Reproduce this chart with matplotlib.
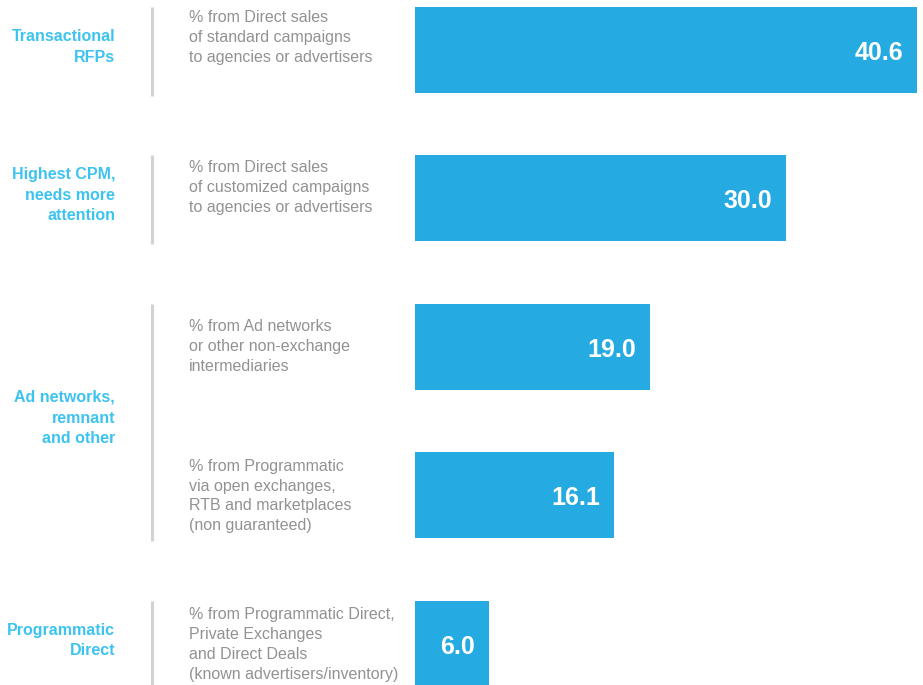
import matplotlib.pyplot as plt
from matplotlib.transforms import blended_transform_factory

# data
values = [40.6, 30.0, 19.0, 16.1, 6.0]
descriptions = [
    ["% from Direct sales", "of standard campaigns", "to agencies or advertisers"],
    ["% from Direct sales", "of customized campaigns", "to agencies or advertisers"],
    ["% from Ad networks", "or other non-exchange", "intermediaries"],
    ["% from Programmatic", "via open exchanges,", "RTB and marketplaces", "(non guaranteed)"],
    ["% from Programmatic Direct,", "Private Exchanges", "and Direct Deals", "(known advertisers/inventory)"],
]
groups = [
    (["Transactional", "RFPs"], [0]),
    (["Highest CPM,", "needs more", "attention"], [1]),
    (["Ad networks,", "remnant", "and other"], [2, 3]),
    (["Programmatic", "Direct"], [4]),
]

W, H = 923, 685
BAR = "#25aae1"
CAT = "#3dc3ef"
GREY = "#929292"
RULE = "#d2d2d2"

plt.rcParams['font.family'] = ['Liberation Sans', 'DejaVu Sans']

fig = plt.figure(figsize=(W / 100, H / 100), dpi=100)
ax = fig.add_axes([0, 0, 1, 1])
ax.axis('off')

# pixel layout: x=0 at 415px, 40.6 at 917px; row i centred at 50 + 148.4*i px
scale = (917 - 415) / 40.6
ax.set_xlim(-415 / scale, (W - 415) / scale)
step = 148.4
ax.set_ylim((H - 50) / step, -50 / step)
bh = 86 / step

ax.barh(range(len(values)), values, height=bh, color=BAR, left=0)

for i, v in enumerate(values):
    ax.annotate(f"{v:.1f}", (v, i), xytext=(-14, -3), textcoords='offset pixels',
                ha='right', va='center', color='white', fontsize=18,
                fontweight='bold')


def fy(ypx):
    return 1 - ypx / H


# descriptions, one line at a time
top_off = [11, 12, 23, 14, 14]
for i, lines in enumerate(descriptions):
    y0 = 50 + step * i - 43 + top_off[i]
    for k, line in enumerate(lines):
        fig.text(189 / W, fy(y0 + k * 19.8), line, ha='left', va='center',
                 color=GREY, fontsize=11.5)

# category labels and separators
tr = blended_transform_factory(ax.transAxes, ax.transData)
for lines, rows in groups:
    top = rows[0] - bh / 2
    bot = rows[-1] + bh / 2 + 3 / step
    ax.plot([152 / W, 152 / W], [top, bot], color=RULE, lw=2.2, transform=tr,
            solid_capstyle='butt')
    mid_px = 50 + step * (rows[0] + rows[-1]) / 2 - 3
    n = len(lines)
    for k, line in enumerate(lines):
        fig.text(115 / W, fy(mid_px + (k - (n - 1) / 2) * 20.5), line,
                 ha='right', va='center', color=CAT, fontsize=11.5,
                 fontweight='bold')

fig.savefig("out.png", dpi=100)
